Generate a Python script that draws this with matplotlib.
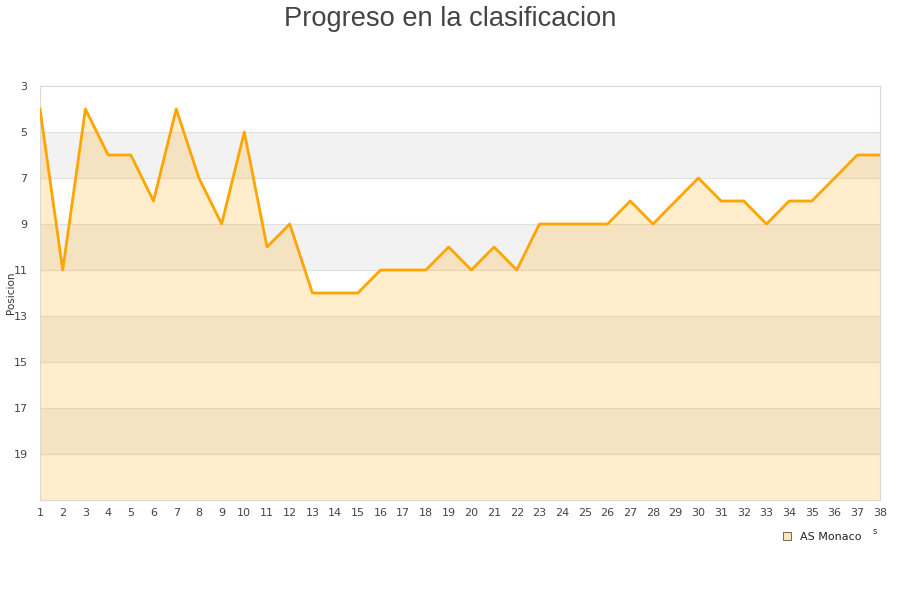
import matplotlib
matplotlib.use("Agg")
import matplotlib.pyplot as plt
from matplotlib.patches import Patch

# datos de la temporada
jornadas = list(range(1, 39))
posiciones = [4, 11, 4, 6, 6, 8, 4, 7, 9, 5, 10, 9, 12, 12, 12, 11, 11, 11, 10, 11,
              10, 11, 9, 9, 9, 9, 8, 9, 8, 7, 8, 8, 9, 8, 8, 7, 6, 6]
y_ticks = [3, 5, 7, 9, 11, 13, 15, 17, 19]
equipo = "AS Monaco"

fig = plt.figure(figsize=(9, 6), dpi=100)
ax = fig.add_axes([40 / 900, 100 / 600, 840 / 900, 414 / 600])

# bandas alternas del fondo
for y0 in range(5, 21, 4):
    ax.axhspan(y0, y0 + 2, color="#f2f2f2", zorder=0, lw=0)
for t in y_ticks[1:]:
    ax.axhline(t, color="#e0e0e0", lw=0.8, zorder=1)

ax.fill_between(jornadas, posiciones, 21, color="#FFA500", alpha=0.2, lw=0, zorder=2)
ax.plot(jornadas, posiciones, color="#FFA500", lw=2.0, zorder=3)

ax.set_xlim(1, 38)
ax.set_ylim(21, 3)
ax.set_xticks(jornadas)
ax.set_yticks(y_ticks)
ax.tick_params(axis="both", length=0, labelsize=8, colors="#444444", pad=6)
ax.tick_params(axis="y", pad=9)
for s in ax.spines.values():
    s.set_color("#d9d9d9")
    s.set_linewidth(0.8)

ax.set_ylabel("Posicion", fontsize=7.5, color="#333333")
ax.yaxis.set_label_coords(-24 / 840, 0.5)
fig.text(0.5, 1 - 26 / 600, "Progreso en la clasificacion", ha="center", va="baseline",
         fontsize=19.6, color="#444444", family="Liberation Sans")
fig.text(875 / 900, 1 - 532 / 600, "s", fontsize=6, color="#333333", ha="center", va="center")

handle = Patch(facecolor="#FFE5B8", edgecolor="#555555", lw=0.6)
fig.legend([handle], [equipo], loc="center", bbox_to_anchor=(822 / 900, 1 - 537 / 600),
           frameon=False, fontsize=8, handlelength=0.7, handleheight=0.7,
           handletextpad=0.8, labelcolor="#222222")

fig.savefig("out.png", dpi=100)
